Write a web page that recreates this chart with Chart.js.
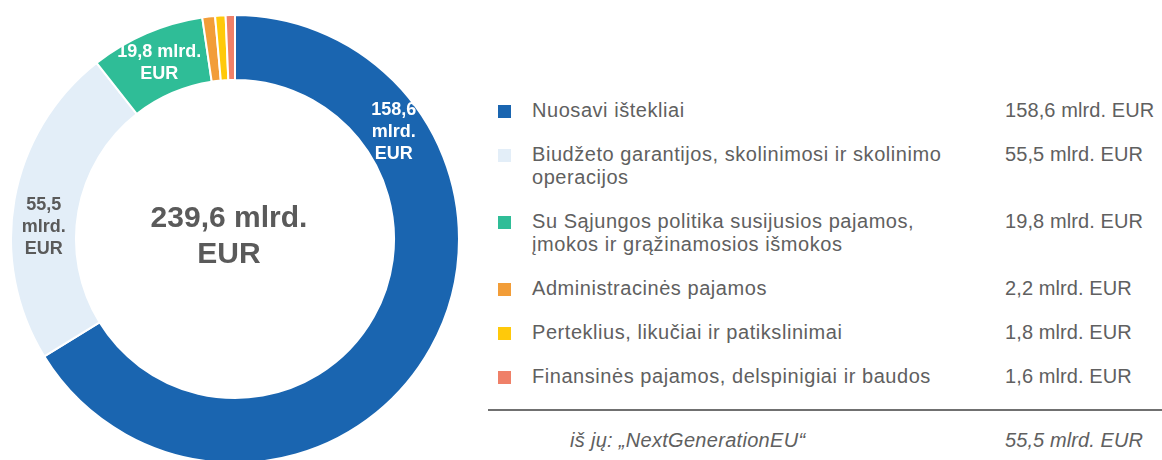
<!DOCTYPE html>
<html lang="lt">
<head>
<meta charset="utf-8">
<script src="https://cdn.jsdelivr.net/npm/chart.js@4.4.1/dist/chart.umd.min.js"></script>
<style>
    html, body { margin: 0; padding: 0; width: 1162px; height: 460px; overflow: hidden; background: #fff; }
    body { position: relative; font-family: "Liberation Sans", Arial, Helvetica, sans-serif; color: #606060; }
    #chartBox { position: absolute; left: 10px; top: 14px; width: 450px; height: 450px; }
    #legend { position: absolute; left: 498px; top: 99px; width: 664px; }
    .row { position: relative; font-size: 20px; line-height: 23px; letter-spacing: 0.55px; margin-bottom: 21px; }
    .row .box { position: absolute; left: 0; top: 6px; width: 13px; height: 13px; }
    .row .name { margin-left: 34px; white-space: pre-line; width: 460px; }
    .row .val { position: absolute; left: 507px; top: 0; letter-spacing: 0.1px; }
    #sep { position: absolute; left: 488px; top: 409px; width: 674px; height: 2px; background: #707070; }
    #ngeu { position: absolute; left: 0; top: 429px; width: 1162px; font-size: 20px; line-height: 23px; font-style: italic; letter-spacing: 0.3px; }
    #ngeu .name { position: absolute; left: 570px; }
    #ngeu .val { position: absolute; left: 1005px; letter-spacing: 0.1px; }
</style>
</head>
<body>
<div id="chartBox"><canvas id="pieChart" width="450" height="450"></canvas></div>
<div id="legend"></div>
<div id="sep"></div>
<div id="ngeu"><span class="name"></span><span class="val"></span></div>

<script>
// Données du graphique (mlrd. EUR)
var categories = [
    "Nuosavi ištekliai",
    "Biudžeto garantijos, skolinimosi ir skolinimo\noperacijos",
    "Su Sąjungos politika susijusios pajamos,\nįmokos ir grąžinamosios išmokos",
    "Administracinės pajamos",
    "Perteklius, likučiai ir patikslinimai",
    "Finansinės pajamos, delspinigiai ir baudos"
];
var values = [158.6, 55.5, 19.8, 2.2, 1.8, 1.6];
var colors = ['#1a65b0', '#e3eef8', '#2fbd97', '#f29d38', '#ffc90a', '#ef8068'];
var total = 239.6;
var ngeuLabel = "iš jų: „NextGenerationEU“";
var ngeuValue = 55.5;

function fmt(v) {
    return v.toFixed(1).replace('.', ',') + ' mlrd. EUR';
}

// Légende HTML
var legend = document.getElementById('legend');
categories.forEach(function (c, i) {
    var row = document.createElement('div');
    row.className = 'row';
    row.innerHTML = '<span class="box" style="background:' + colors[i] + '"></span>' +
        '<div class="name"></div><span class="val"></span>';
    row.querySelector('.name').textContent = c;
    row.querySelector('.val').textContent = fmt(values[i]);
    legend.appendChild(row);
});
document.querySelector('#ngeu .name').textContent = ngeuLabel;
document.querySelector('#ngeu .val').textContent = fmt(ngeuValue);

// Étiquettes sur les arcs + total au centre
var arcLabels = {
    id: 'arcLabels',
    afterDatasetsDraw: function (chart, args, opts) {
        var ctx = chart.ctx;
        var meta = chart.getDatasetMeta(0);
        ctx.save();
        ctx.textAlign = 'center';
        ctx.textBaseline = 'middle';
        ctx.font = 'bold 18px "Liberation Sans", Arial, sans-serif';
        opts.items.forEach(function (it) {
            var arc = meta.data[it.index];
            var p = arc.getProps(['x', 'y', 'startAngle', 'endAngle', 'innerRadius', 'outerRadius']);
            var a = p.startAngle + (p.endAngle - p.startAngle) * it.at;
            var r = (p.innerRadius + p.outerRadius) / 2;
            var cx = p.x + Math.cos(a) * r;
            var cy = p.y + Math.sin(a) * r;
            var v = values[it.index].toFixed(1).replace('.', ',');
            var lines = it.split ? [v, 'mlrd.', 'EUR'] : [v + ' mlrd.', 'EUR'];
            ctx.fillStyle = it.color;
            lines.forEach(function (l, k) {
                ctx.fillText(l, cx, cy + (k - (lines.length - 1) / 2) * 22);
            });
        });
        // total
        var c = meta.data[0];
        ctx.fillStyle = '#5a5a5a';
        ctx.font = 'bold 30px "Liberation Sans", Arial, sans-serif';
        ctx.textBaseline = 'alphabetic';
        ctx.fillText(total.toFixed(1).replace('.', ',') + ' mlrd.', c.x - 6, c.y - 12);
        ctx.fillText('EUR', c.x - 6, c.y + 24);
        ctx.restore();
    }
};

var pieCanvas = document.getElementById('pieChart').getContext('2d');
var pieChart = new Chart(pieCanvas, {
    type: 'doughnut',
    data: {
        labels: categories,
        datasets: [{
            data: values,
            backgroundColor: colors,
            borderColor: '#ffffff',
            borderWidth: 2
        }]
    },
    options: {
        responsive: false,
        animation: false,
        cutout: '71%',
        layout: { padding: 0 },
        plugins: {
            legend: { display: false },
            tooltip: { enabled: false },
            arcLabels: {
                items: [
                    { index: 0, at: 0.235, split: true, color: '#ffffff' },
                    { index: 1, at: 0.42, split: true, color: '#5a5a5a' },
                    { index: 2, at: 0.5, split: false, color: '#ffffff' }
                ]
            }
        }
    },
    plugins: [arcLabels]
});
</script>
</body>
</html>
